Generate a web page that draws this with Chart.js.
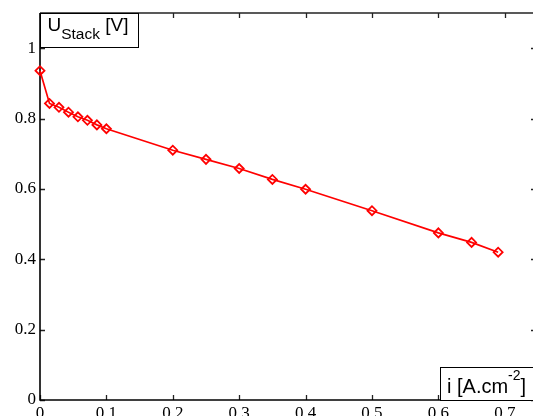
<!DOCTYPE html>
<html><head><meta charset="utf-8">
<script src="https://cdn.jsdelivr.net/npm/chart.js@4"></script>
<style>html,body{margin:0;padding:0;background:#fff;overflow:hidden}#wrap{width:533px;height:416px;position:relative}</style>
</head><body><div id="wrap"><canvas id="c" width="533" height="416"></canvas></div>
<script>
const currentDensity = [0, 0.0143, 0.0286, 0.0429, 0.0571, 0.0714, 0.0857, 0.1, 0.2, 0.25, 0.3, 0.35, 0.4, 0.5, 0.6, 0.65, 0.69];
const stackVoltage   = [0.936, 0.843, 0.832, 0.818, 0.805, 0.795, 0.782, 0.771, 0.710, 0.684, 0.658, 0.627, 0.599, 0.538, 0.475, 0.448, 0.420];
const xTicks = [0, 0.1, 0.2, 0.3, 0.4, 0.5, 0.6, 0.7];
const yTicks = [0, 0.2, 0.4, 0.6, 0.8, 1];
const xRange = [0, 0.7425];
const yRange = [0, 1.1];
const yTitle = {main: 'U', sub: 'Stack', tail: ' [V]'};
const xTitle = {main: 'i [A.cm', sup: '-2', tail: ']'};

const points = currentDensity.map((v, i) => ({x: v, y: stackVoltage[i]}));
const fmt = v => String(Number(Number(v).toFixed(2)));

const axesBox = {
  id: 'axesBox',
  beforeDatasetsDraw(chart) {
    const {ctx, chartArea: a, scales: {x, y}} = chart;
    ctx.save();
    ctx.lineCap = 'butt';
    ctx.strokeStyle = '#222'; ctx.lineWidth = 1.3;
    ctx.beginPath(); ctx.moveTo(a.left, a.top); ctx.lineTo(a.right, a.top); ctx.stroke();
    ctx.beginPath();
    xTicks.forEach(v => {
      const px = Math.round(x.getPixelForValue(v)) + 0.5;
      ctx.moveTo(px, a.bottom); ctx.lineTo(px, a.bottom - 5);
      ctx.moveTo(px, a.top); ctx.lineTo(px, a.top + 5);
    });
    yTicks.forEach(v => {
      const py = Math.round(y.getPixelForValue(v)) + 0.5;
      ctx.moveTo(a.left, py); ctx.lineTo(a.left + 5, py);
      ctx.moveTo(a.right, py); ctx.lineTo(a.right - 2, py);
    });
    ctx.stroke();
    ctx.strokeStyle = '#000'; ctx.lineWidth = 1.6;
    ctx.beginPath(); ctx.moveTo(a.left, a.top); ctx.lineTo(a.left, a.bottom); ctx.lineTo(a.right, a.bottom); ctx.stroke();
    ctx.restore();
  },
  afterDatasetsDraw(chart) {
    const {ctx, chartArea: a} = chart;
    ctx.save();
    ctx.lineWidth = 1; ctx.strokeStyle = '#000'; ctx.fillStyle = '#fff';
    const b1 = {x: a.left, y: a.top, w: 98, h: 34};
    ctx.fillRect(b1.x, b1.y, b1.w, b1.h);
    ctx.strokeRect(b1.x + 0.5, b1.y + 0.5, b1.w, b1.h);
    ctx.fillStyle = '#000'; ctx.textBaseline = 'alphabetic'; ctx.textAlign = 'left';
    let tx = b1.x + 7.5;
    ctx.font = '19px "Liberation Sans", Arial, sans-serif';
    ctx.fillText(yTitle.main, tx, b1.y + 18); tx += ctx.measureText(yTitle.main).width;
    ctx.font = '15.5px "Liberation Sans", Arial, sans-serif';
    ctx.fillText(yTitle.sub, tx, b1.y + 26); tx += ctx.measureText(yTitle.sub).width;
    ctx.font = '19px "Liberation Sans", Arial, sans-serif';
    ctx.fillText(yTitle.tail, tx, b1.y + 18);
    const b2 = {x: a.right - 93, y: a.bottom - 33, w: 95, h: 33};
    ctx.fillStyle = '#fff';
    ctx.fillRect(b2.x, b2.y, b2.w, b2.h);
    ctx.strokeRect(b2.x + 0.5, b2.y + 0.5, b2.w, b2.h);
    ctx.fillStyle = '#000';
    tx = b2.x + 7;
    ctx.font = '20px "Liberation Sans", Arial, sans-serif';
    ctx.fillText(xTitle.main, tx, b2.y + 26); tx += ctx.measureText(xTitle.main).width;
    ctx.font = '14px "Liberation Sans", Arial, sans-serif';
    ctx.fillText(xTitle.sup, tx, b2.y + 13); tx += ctx.measureText(xTitle.sup).width;
    ctx.font = '20px "Liberation Sans", Arial, sans-serif';
    ctx.fillText(xTitle.tail, tx, b2.y + 26);
    ctx.restore();
  }
};

new Chart(document.getElementById('c'), {
  type: 'scatter',
  data: {datasets: [{
    data: points,
    showLine: true,
    borderColor: '#ff0000',
    borderWidth: 1.7,
    pointStyle: 'rectRot',
    pointRadius: 4.5,
    pointBorderWidth: 1.8,
    pointBorderColor: '#ff0000',
    pointBackgroundColor: 'rgba(0,0,0,0)',
    clip: false
  }]},
  options: {
    responsive: false, animation: false, devicePixelRatio: 1,
    layout: {autoPadding: false, padding: {top: 13, right: 0, left: 0, bottom: 0}},
    plugins: {legend: {display: false}, tooltip: {enabled: false}},
    scales: {
      x: {
        type: 'linear', min: xRange[0], max: xRange[1],
        grid: {display: false, drawTicks: false}, border: {display: false},
        afterBuildTicks: s => { s.ticks = xTicks.map(v => ({value: v})); },
        afterFit: s => { s.height = 16; s.paddingLeft = 0; s.paddingRight = 0; },
        ticks: {padding: 3, color: '#000', font: {family: '"Liberation Serif", "Times New Roman", serif', size: 17}, callback: fmt, maxRotation: 0, autoSkip: false}
      },
      y: {
        type: 'linear', min: yRange[0], max: yRange[1],
        grid: {display: false, drawTicks: false}, border: {display: false},
        afterBuildTicks: s => { s.ticks = yTicks.map(v => ({value: v})); },
        afterFit: s => { s.width = 40; s.paddingTop = 0; s.paddingBottom = 0; },
        ticks: {padding: 4, color: '#000', font: {family: '"Liberation Serif", "Times New Roman", serif', size: 17}, callback: fmt, autoSkip: false}
      }
    }
  },
  plugins: [axesBox]
});
</script>
</body></html>
